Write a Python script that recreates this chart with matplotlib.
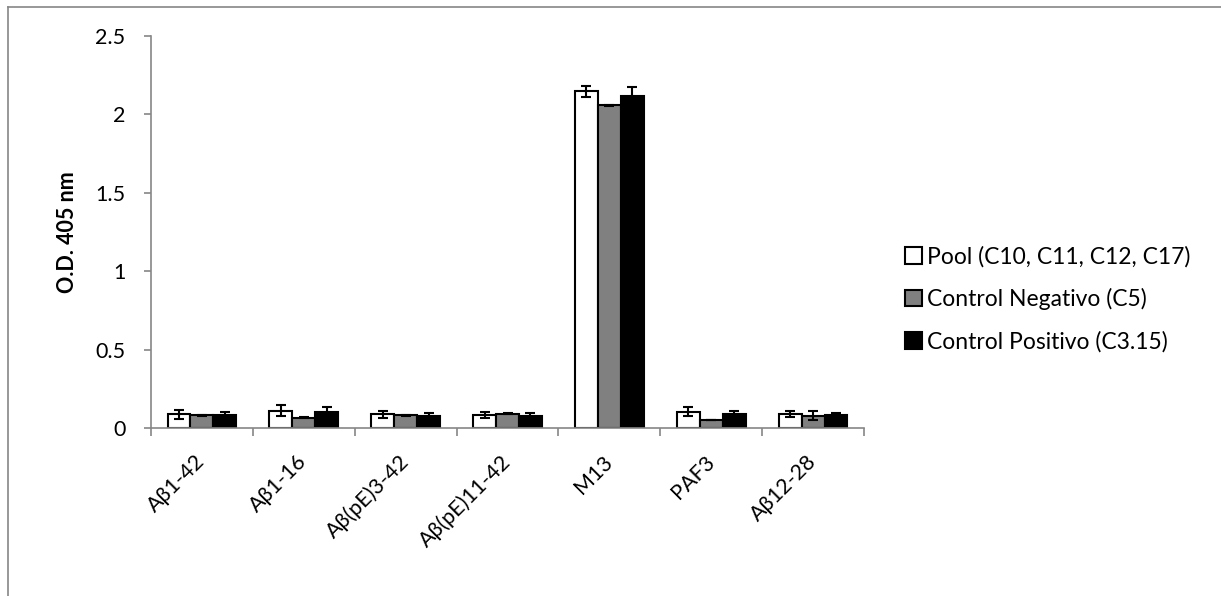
import matplotlib
matplotlib.use("Agg")
import matplotlib.pyplot as plt
import numpy as np
from matplotlib.lines import Line2D

plt.rcParams['font.family'] = ['Lato', 'DejaVu Sans']

categories = ["Aβ1-42", "Aβ1-16", "Aβ(pE)3-42", "Aβ(pE)11-42", "M13", "PAF3", "Aβ12-28"]
series_names = ["Pool (C10, C11, C12, C17)", "Control Negativo (C5)", "Control Positivo (C3.15)"]
pool = [0.087, 0.110, 0.087, 0.081, 2.149, 0.104, 0.089]
pool_err = [0.030, 0.035, 0.022, 0.020, 0.035, 0.030, 0.020]
neg = [0.080, 0.066, 0.080, 0.091, 2.058, 0.051, 0.079]
neg_err = [0.003, 0.005, 0.003, 0.004, 0.005, 0.003, 0.027]
pos = [0.085, 0.102, 0.077, 0.077, 2.115, 0.091, 0.083]
pos_err = [0.020, 0.035, 0.020, 0.017, 0.060, 0.020, 0.015]
yticks = [0, 0.5, 1, 1.5, 2, 2.5]
ytick_labels = ["0", "0.5", "1", "1.5", "2", "2.5"]
ylabel = "O.D. 405 nm"

W, H = 1221, 596
fig = plt.figure(figsize=(W / 100, H / 100), dpi=100)
ax = fig.add_axes([151 / W, 1 - 428 / H, (864 - 151) / W, (428 - 36) / H])

grey = "#868686"
fs = 15.5
x = np.arange(len(categories))
bw = 0.225
colors = ["white", "#808080", "black"]
data = [(pool, pool_err), (neg, neg_err), (pos, pos_err)]
for i, ((vals, errs), c, name) in enumerate(zip(data, colors, series_names)):
    ax.bar(x + (i - 1) * bw, vals, bw, color=c, edgecolor="black", linewidth=1.5,
           label=name, zorder=2,
           yerr=errs, error_kw=dict(ecolor="black", elinewidth=1.5, capsize=3.7, capthick=1.5, zorder=3))

ax.set_xlim(-0.5, len(categories) - 0.5)
ax.set_ylim(0, 2.5)
ax.set_yticks(yticks)
ax.set_yticklabels(ytick_labels, fontsize=fs)
ax.set_xticks(np.arange(len(categories) + 1) - 0.5)
ax.set_xticklabels([])
ax.set_xticks(x, minor=True)
ax.set_xticklabels(categories, minor=True, rotation=45, ha="right", va="center",
                   rotation_mode="anchor", fontsize=fs)
ax.tick_params(axis="x", which="minor", length=0, pad=22)
ax.tick_params(axis="x", which="major", length=5.8, color=grey, width=1.2)
ax.tick_params(axis="y", length=5, color=grey, width=1.2, pad=13.5)

for s in ["top", "right"]:
    ax.spines[s].set_visible(False)
for s in ["left", "bottom"]:
    ax.spines[s].set_color(grey)
    ax.spines[s].set_linewidth(1.2)

ax.set_ylabel(ylabel, fontsize=fs, fontweight="bold")
ax.yaxis.set_label_coords(78 / W, 1 - 232 / H, transform=fig.transFigure)

leg = ax.legend(loc="center left", bbox_to_anchor=(905 / W, 1 - 299 / H),
                bbox_transform=fig.transFigure, frameon=False, fontsize=16.5,
                borderpad=0, borderaxespad=0,
                handlelength=0.74, handleheight=0.74, handletextpad=0.22, labelspacing=0.9)

# outer frame
fig.add_artist(Line2D([8 / W, 1], [1 - 7 / H, 1 - 7 / H], transform=fig.transFigure, color=grey, lw=1.2))
fig.add_artist(Line2D([8 / W, 8 / W], [0, 1 - 7 / H], transform=fig.transFigure, color=grey, lw=1.2))

fig.savefig("out.png", dpi=100)
